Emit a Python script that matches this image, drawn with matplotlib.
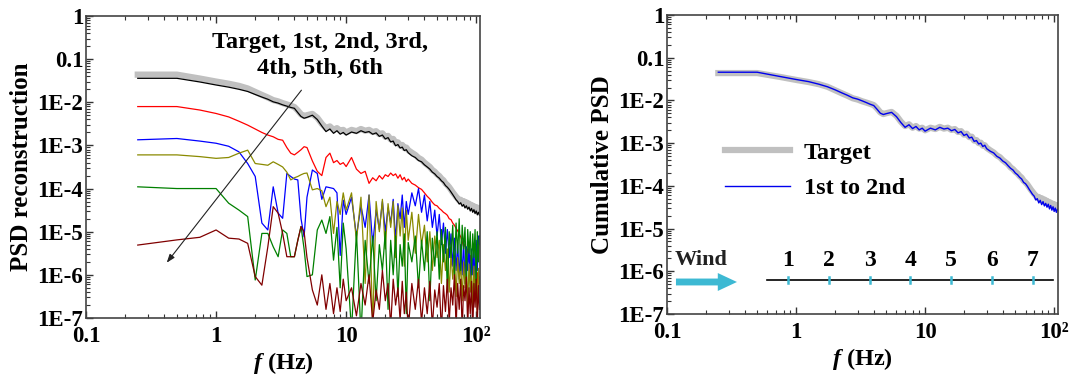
import numpy as np
import matplotlib
matplotlib.use('Agg')
from matplotlib import pyplot as plt
from matplotlib.patches import FancyArrow
from matplotlib.ticker import FixedLocator, FixedFormatter, LogLocator, NullFormatter

plt.rcParams['font.family'] = ['Liberation Serif', 'DejaVu Serif']
plt.rcParams['font.weight'] = 'bold'
plt.rcParams['axes.labelweight'] = 'bold'
plt.rcParams['mathtext.fontset'] = 'custom'
plt.rcParams['mathtext.it'] = 'Liberation Serif:italic:bold'
plt.rcParams['mathtext.rm'] = 'Liberation Serif:bold'

# frequency (Hz)
freq = [0.25, 0.5, 0.75, 1.0, 1.25, 1.5, 1.75, 2.0, 2.25, 2.5, 2.75, 3.0, 3.25, 3.5, 3.75, 4.0, 4.25, 4.5, 4.75, 5.0,
        5.5, 6.0, 6.5, 7.0, 7.5, 8.0, 8.5, 9.0, 9.5, 10,
        11, 12, 13, 14, 15, 16, 17, 18, 19, 20, 21, 22, 23, 24, 25, 26, 27, 28, 29, 30,
        32, 34, 36, 38, 40, 42, 44, 46, 48, 50, 52, 54, 56, 58, 60, 62, 64, 66, 68, 70,
        72, 74, 76, 78, 80, 82, 84, 86, 88, 90, 92, 94, 96, 98, 100, 102, 104, 106]

# log10 of PSD
target_lg = [-1.36, -1.36, -1.45, -1.52, -1.57, -1.62, -1.68, -1.76, -1.83, -1.89, -1.95, -1.98, -2.02, -2.05, -2.08, -2.11, -2.19, -2.28, -2.32, -2.30,
             -2.27, -2.36, -2.50, -2.60, -2.56, -2.64, -2.60, -2.66, -2.64, -2.70,
             -2.64, -2.67, -2.62, -2.66, -2.64, -2.69, -2.67, -2.74, -2.72, -2.80, -2.78, -2.86, -2.85, -2.94, -2.93, -3.00, -2.99, -3.06, -3.05, -3.11,
             -3.17, -3.22, -3.29, -3.33, -3.40, -3.45, -3.50, -3.57, -3.61, -3.67, -3.71, -3.77, -3.81, -3.88, -3.92, -3.97, -4.03, -4.09, -4.14, -4.19,
             -4.23, -4.28, -4.26, -4.32, -4.29, -4.36, -4.32, -4.39, -4.35, -4.42, -4.38, -4.45, -4.41, -4.47, -4.43, -4.50, -4.45, -4.51]

mode1_lg = [-1.445, -1.445, -1.53, -1.60, -1.65, -1.70, -1.75, -1.82, -1.88, -1.93, -1.99, -2.02, -2.06, -2.09, -2.12, -2.14, -2.24, -2.33, -2.37, -2.35,
            -2.30, -2.40, -2.55, -2.68, -2.62, -2.72, -2.66, -2.74, -2.70, -2.76,
            -2.69, -2.72, -2.66, -2.70, -2.68, -2.74, -2.71, -2.79, -2.76, -2.85, -2.82, -2.92, -2.90, -3.01, -2.98, -3.06, -3.04, -3.12, -3.10, -3.17,
            -3.24, -3.28, -3.35, -3.38, -3.45, -3.50, -3.55, -3.62, -3.66, -3.72, -3.76, -3.82, -3.86, -3.93, -3.97, -4.02, -4.08, -4.14, -4.20, -4.26,
            -4.30, -4.36, -4.33, -4.41, -4.37, -4.45, -4.40, -4.48, -4.43, -4.52, -4.46, -4.55, -4.49, -4.58, -4.52, -4.61, -4.55, -4.62]

mode2_lg = [-2.10, -2.10, -2.18, -2.26, -2.34, -2.44, -2.53, -2.62, -2.70, -2.76, -2.80, -2.86, -2.88, -3.05, -3.18, -3.22, -3.16, -3.10, -3.03, -3.05,
            -3.36, -3.60, -3.70, -3.28, -3.18, -3.40, -3.35, -3.44, -3.40, -3.49,
            -3.28, -3.55, -3.65, -3.60, -3.88, -3.75, -3.82, -3.70, -3.78, -3.68, -3.72, -3.64, -3.70, -3.66, -3.76, -3.68, -3.80, -3.74, -3.84, -3.78,
            -3.88, -3.92, -3.98, -4.02, -4.10, -4.18, -4.24, -4.32, -4.38, -4.40, -4.46, -4.50, -4.55, -4.58, -4.62, -4.70, -4.72, -4.80, -4.85, -4.92,
            -4.98, -5.05, -5.12, -5.22, -5.35, -5.28, -5.50, -5.40, -5.70, -5.55, -5.90, -5.65, -6.10, -5.80, -6.30, -5.95, -6.40, -6.05]

mode3_lg = [-2.87, -2.84, -2.90, -2.95, -3.02, -3.15, -3.42, -3.72, -4.80, -4.96, -3.96, -4.57, -4.69, -3.65, -3.72, -3.78, -3.80, -4.70, -5.12, -4.20,
            -3.57, -3.65, -4.25, -3.96, -3.98, -4.00, -4.10, -5.55, -4.27, -4.60,
            -4.20, -5.10, -4.40, -4.90, -4.15, -5.30, -4.50, -4.95, -4.30, -5.00, -4.45, -4.80, -4.25, -5.20, -4.35, -4.70, -4.15, -4.90, -4.30, -4.60,
            -4.10, -4.40, -4.00, -4.55, -4.15, -4.75, -4.30, -4.90, -4.50, -5.10, -4.60, -5.30, -4.80, -5.50, -4.95, -5.60, -5.05, -5.80, -5.15, -5.90,
            -5.25, -6.10, -5.30, -6.00, -5.20, -6.20, -5.35, -5.90, -5.25, -6.30, -5.40, -6.00, -5.30, -6.40, -5.20, -5.90, -5.10, -5.30]

mode4_lg = [-3.22, -3.22, -3.26, -3.30, -3.28, -3.18, -3.11, -3.42, -3.44, -3.46, -3.38, -3.44, -3.50, -3.62, -3.80, -3.75, -3.72, -3.68, -3.65, -3.64,
            -4.03, -4.00, -4.05, -4.42, -4.20, -5.04, -4.30, -4.60, -4.10, -4.50,
            -4.10, -5.20, -4.20, -6.20, -4.15, -7.20, -4.30, -5.00, -4.25, -5.40, -4.35, -4.90, -4.30, -5.60, -4.40, -5.10, -4.45, -5.80, -4.50, -5.20,
            -4.55, -5.50, -4.60, -5.30, -4.85, -5.70, -5.00, -5.90, -5.10, -5.60, -5.20, -6.20, -5.30, -5.90, -5.40, -6.40, -5.50, -6.10, -5.60, -6.50,
            -5.60, -6.20, -5.70, -6.60, -5.70, -6.30, -5.80, -6.70, -5.75, -6.40, -5.85, -6.80, -5.80, -6.50, -5.90, -6.90, -5.85, -6.20]

mode5_lg = [-3.96, -4.00, -4.00, -4.00, -4.34, -4.50, -4.65, -6.12, -5.04, -5.04, -5.35, -5.58, -4.96, -5.04, -5.58, -5.58, -5.20, -4.88, -5.40, -6.04,
            -6.00, -4.96, -4.73, -5.04, -4.65, -5.66, -4.90, -6.30, -4.80, -5.40,
            -7.30, -5.00, -7.40, -5.20, -6.20, -5.10, -6.60, -5.30, -5.90, -5.00, -6.80, -5.20, -6.00, -5.10, -6.50, -5.30, -5.80, -5.05, -6.90, -5.25,
            -5.70, -5.10, -6.30, -5.20, -5.90, -5.00, -6.60, -5.15, -5.80, -5.00, -6.10, -4.95, -5.70, -4.90, -6.40, -5.00, -5.60, -4.85, -6.00, -4.80,
            -5.50, -4.70, -5.90, -4.85, -5.40, -4.90, -6.20, -4.95, -5.50, -5.00, -6.00, -5.05, -5.60, -4.95, -6.30, -5.00, -5.70, -5.10]

mode6_lg = [-5.31, -5.19, -5.13, -4.96, -5.15, -5.17, -5.27, -6.04, -6.24, -5.35, -4.42, -4.57, -5.04, -5.58, -5.58, -5.58, -5.20, -4.88, -5.00, -5.60,
            -6.35, -6.70, -6.00, -6.80, -6.20, -6.90, -6.30, -6.85, -6.10, -6.60,
            -6.30, -6.95, -6.20, -6.70, -6.00, -7.10, -6.35, -6.80, -5.90, -6.60, -6.20, -7.20, -6.10, -6.70, -6.30, -7.05, -6.15, -6.90, -6.40, -7.30,
            -6.20, -6.80, -6.10, -7.10, -6.30, -6.90, -6.15, -7.20, -6.35, -6.75, -6.20, -7.30, -6.25, -6.85, -6.10, -7.10, -6.30, -6.70, -6.00, -7.20,
            -6.20, -6.80, -6.10, -7.30, -6.25, -6.60, -6.05, -7.20, -6.30, -6.90, -6.15, -7.40, -6.20, -6.75, -6.10, -7.10, -6.25, -6.80]

# cumulative PSD of 1st + 2nd (right panel)
cum12_lg = [-1.34, -1.34, -1.44, -1.51, -1.56, -1.62, -1.68, -1.75, -1.82, -1.88, -1.94, -1.97, -2.01, -2.05, -2.09, -2.12, -2.21, -2.30, -2.33, -2.31,
            -2.28, -2.38, -2.52, -2.63, -2.57, -2.66, -2.61, -2.69, -2.65, -2.72,
            -2.65, -2.69, -2.63, -2.67, -2.65, -2.71, -2.68, -2.76, -2.73, -2.82, -2.79, -2.88, -2.86, -2.96, -2.94, -3.02, -3.00, -3.08, -3.05, -3.13,
            -3.19, -3.23, -3.31, -3.35, -3.42, -3.46, -3.53, -3.59, -3.63, -3.70, -3.74, -3.80, -3.84, -3.92, -3.95, -4.01, -4.08, -4.14, -4.20, -4.24,
            -4.33, -4.30, -4.40, -4.34, -4.44, -4.37, -4.47, -4.41, -4.50, -4.43, -4.54, -4.46, -4.57, -4.49, -4.60, -4.52, -4.62, -4.55]

mode_colors = ['#000000', '#ff0000', '#0000ff', '#8a8a00', '#008000', '#800000']
y_ticks = [1e-7, 1e-6, 1e-5, 1e-4, 1e-3, 1e-2, 0.1, 1]
y_labels = ['1E-7', '1E-6', '1E-5', '1E-4', '1E-3', '1E-2', '0.1', '1']
x_ticks = [0.1, 1, 10, 100]
x_labels = ['0.1', '1', '10', '10²']
sensor_labels = ['1', '2', '3', '4', '5', '6', '7']

f = np.array(freq)


def style_axis(ax, ylabel):
    ax.set_xscale('log')
    ax.set_yscale('log')
    ax.set_xlim(0.1, 107)
    ax.set_ylim(1e-7, 1)
    ax.xaxis.set_major_locator(FixedLocator(x_ticks))
    ax.xaxis.set_major_formatter(FixedFormatter(x_labels))
    ax.xaxis.set_minor_locator(LogLocator(base=10, subs=np.arange(2, 10)))
    ax.xaxis.set_minor_formatter(NullFormatter())
    ax.yaxis.set_major_locator(FixedLocator(y_ticks))
    ax.yaxis.set_major_formatter(FixedFormatter(y_labels))
    ax.yaxis.set_minor_locator(LogLocator(base=10, subs=np.arange(2, 10), numticks=20))
    ax.yaxis.set_minor_formatter(NullFormatter())
    ax.tick_params(which='both', direction='in', top=True, right=False, labelsize=16.5, color='#333333')
    ax.tick_params(which='major', length=5, width=1)
    ax.tick_params(which='minor', length=3, width=0.8)
    ax.tick_params(axis='x', pad=6)
    ax.tick_params(axis='y', pad=2)
    for lab in ax.get_xticklabels() + ax.get_yticklabels():
        lab.set_fontweight('bold')
    for s in ax.spines.values():
        s.set_color('#444444')
        s.set_linewidth(1.2)
    ax.set_xlabel(r'$f$ (Hz)', fontsize=17.5, fontweight='bold', labelpad=2)
    ax.set_ylabel(ylabel, fontsize=18, fontweight='bold', labelpad=3)


fig = plt.figure(figsize=(10.9, 3.81), dpi=100)
ax1 = fig.add_axes([0.0789, 0.1654, 0.3615, 0.7927])
ax2 = fig.add_axes([0.6119, 0.1759, 0.3587, 0.7848])

# 左图：各阶重构
ax1.plot(f, 10 ** np.array(target_lg), color='#c0c0c0', lw=4.5)
modes = [mode1_lg, mode2_lg, mode3_lg, mode4_lg, mode5_lg, mode6_lg]
for m, c in zip(modes, mode_colors):
    ax1.plot(f, 10 ** np.array(m), color=c, lw=0.9)
style_axis(ax1, 'PSD reconstruction')
ax1.text(0.594, 0.868, 'Target, 1st, 2nd, 3rd,\n4th, 5th, 6th', transform=ax1.transAxes,
         ha='center', va='center', fontsize=17.5, fontweight='bold', linespacing=1.3)
ax1.annotate('', xy=(0.405, 1.7e-6), xytext=(4.67, 0.0214),
             arrowprops=dict(arrowstyle='-|>,head_length=0.5,head_width=0.18', color='#222222', lw=0.8))

# 右图：累积 PSD
ax2.plot(f, 10 ** np.array(target_lg), color='#c0c0c0', lw=4.5, label='Target')
ax2.plot(f, 10 ** np.array(cum12_lg), color='#0000ee', lw=1.0, label='1st to 2nd')
style_axis(ax2, 'Cumulative PSD')
ax2.legend(loc='center left', bbox_to_anchor=(0.148, 0.48), frameon=False,
           prop={'size': 17.5, 'weight': 'bold'}, borderaxespad=0, borderpad=0,
           handlelength=2.7, handletextpad=0.55, labelspacing=0.55)

# 风向与测点示意
cyan = '#3db9d3'
ax2.text(0.02, 0.18, 'Wind', transform=ax2.transAxes, ha='left', va='center', fontsize=16,
         fontweight='bold', color='#222222')
ax2.add_patch(FancyArrow(0.023, 0.107, 0.107, 0, width=0.023, head_width=0.06, head_length=0.049,
                         length_includes_head=False, transform=ax2.transAxes, color=cyan, lw=0))
ax2.plot([0.256, 0.987], [0.114, 0.114], transform=ax2.transAxes, color='black', lw=1.2)
for i, lab in enumerate(sensor_labels):
    xs = 0.309 + i * 0.1045
    ax2.plot([xs, xs], [0.104, 0.124], transform=ax2.transAxes, color=cyan, lw=1.8)
    ax2.text(xs, 0.18, lab, transform=ax2.transAxes, ha='center', va='center', fontsize=17,
             fontweight='bold')

fig.savefig('out.png', dpi=100)
